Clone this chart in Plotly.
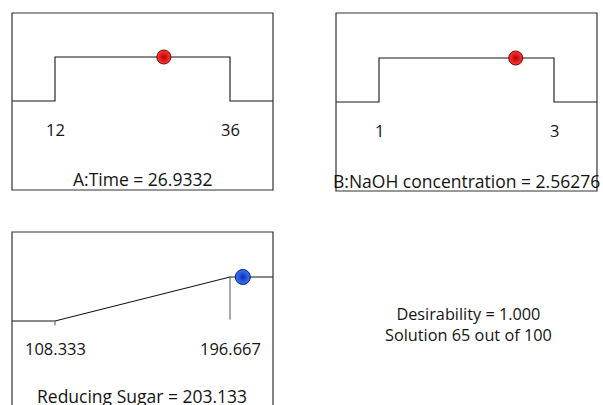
import plotly.graph_objects as go

# Optimisation ramps: factor ranges, chosen settings, predicted response
factor_names = ["A:Time", "B:NaOH concentration"]
factor_low = [12, 1]
factor_high = [36, 3]
factor_opt = [26.9332, 2.56276]
factor_fmt = ["{:g}", "{:g}"]

response_name = "Reducing Sugar"
response_low = 108.333
response_high = 196.667
response_pred = 203.133

desirability = 1.000
solution_no = 65
solution_total = 100

W, H = 603, 405
FONT = "Open Sans"
INK = "#141414"
FS_TITLE = 17.5
FS_TICK = 16.5
FS_NOTE = 16.3


def fx(p):
    return p / W


def fy(p):
    return 1 - p / H


# pixel frames of the three ramp panels: left, right, top, bottom
frames = [(12, 273, 13, 190), (336, 597, 13, 191), (12, 273, 232, 405)]
low_px = [101, 102, 321]
inset = 43
unit_px = 44

fig = go.Figure()
annotations = []
shapes = []


def label(x, y, text, size, xref="paper", yref="paper"):
    annotations.append(dict(x=x, y=y, xref=xref, yref=yref, text=text,
                            showarrow=False, xanchor="center", yanchor="middle",
                            align="center",
                            font=dict(family=FONT, size=size, color=INK)))


def axis_setup(i, lo, hi):
    L, R, T, B = frames[i]
    s = (hi - lo) / (R - L - 2 * inset)
    xr = [lo - inset * s, hi + inset * s]
    yl = low_px[i]
    yr = [-(B - yl) / unit_px, (yl - T) / unit_px]
    ax = dict(domain=[fx(L), fx(R)], range=xr, visible=False, fixedrange=True)
    ay = dict(domain=[max(0, fy(B)), fy(T)], range=yr, visible=False, fixedrange=True)
    return ax, ay, xr, yr


layout_axes = {}
for i in range(2):
    ax, ay, xr, yr = axis_setup(i, factor_low[i], factor_high[i])
    n = i + 1
    sx = "" if n == 1 else str(n)
    layout_axes["xaxis" + sx] = dict(ax, anchor="y" + sx)
    layout_axes["yaxis" + sx] = dict(ay, anchor="x" + sx)
    xa, ya = "x" + sx, "y" + sx
    lo, hi = factor_low[i], factor_high[i]
    fig.add_trace(go.Scatter(
        x=[xr[0], lo, lo, hi, hi, xr[1]], y=[0, 0, 1, 1, 0, 0],
        mode="lines", line=dict(color=INK, width=1.1), xaxis=xa, yaxis=ya,
        hoverinfo="skip", showlegend=False))
    fig.add_trace(go.Scatter(
        x=[factor_opt[i]], y=[1], mode="markers", xaxis=xa, yaxis=ya,
        marker=dict(size=14, color="#ff3a3a",
                    gradient=dict(type="radial", color="#b80000"),
                    line=dict(color="#7a0000", width=1)),
        showlegend=False))
    for v in (lo, hi):
        label(v, -28 / unit_px, factor_fmt[i].format(v), FS_TICK, xref=xa, yref=ya)
    shapes.append(dict(type="rect", xref=xa + " domain", yref=ya + " domain",
                       x0=0, x1=1, y0=0, y1=1, line=dict(color="#333333", width=1.2)))

# titles of the factor panels
label(fx(142), fy(179), f"{factor_names[0]} = {factor_opt[0]:g}", FS_TITLE)
label(fx(466), fy(181), f"{factor_names[1]} = {factor_opt[1]:g}", FS_TITLE)

# response ramp (maximise)
ax, ay, xr, yr = axis_setup(2, response_low, response_high)
layout_axes["xaxis3"] = dict(ax, anchor="y3")
layout_axes["yaxis3"] = dict(ay, anchor="x3")
fig.add_trace(go.Scatter(
    x=[xr[0], response_low, response_high, xr[1]], y=[0, 0, 1, 1],
    mode="lines", line=dict(color=INK, width=1.1), xaxis="x3", yaxis="y3",
    hoverinfo="skip", showlegend=False))
fig.add_trace(go.Scatter(
    x=[response_low, response_low], y=[0, -0.1], mode="lines",
    line=dict(color="#555555", width=1), xaxis="x3", yaxis="y3",
    hoverinfo="skip", showlegend=False))
fig.add_trace(go.Scatter(
    x=[response_high, response_high], y=[1, 0.03], mode="lines",
    line=dict(color="#555555", width=1), xaxis="x3", yaxis="y3",
    hoverinfo="skip", showlegend=False))
fig.add_trace(go.Scatter(
    x=[response_pred], y=[1], mode="markers", xaxis="x3", yaxis="y3",
    marker=dict(size=15, color="#3d78ff",
                gradient=dict(type="radial", color="#0b2fb5"),
                line=dict(color="#061a6e", width=1)),
    showlegend=False))
for v in (response_low, response_high):
    label(v, -27 / unit_px, f"{v:.3f}", FS_TICK, xref="x3", yref="y3")
label(fx(142), fy(395.5), f"{response_name} = {response_pred:.3f}", FS_TITLE)
shapes.append(dict(type="rect", xref="x3 domain", yref="y3 domain",
                   x0=0, x1=1, y0=-0.3, y1=1, line=dict(color="#333333", width=1.2)))

# desirability summary
label(fx(468), fy(324),
      f"Desirability = {desirability:.3f}<br>Solution {solution_no} out of {solution_total}",
      FS_NOTE)

fig.update_layout(
    width=W, height=H, margin=dict(l=0, r=0, t=0, b=0),
    paper_bgcolor="white", plot_bgcolor="white",
    annotations=annotations, shapes=shapes, **layout_axes)

fig.write_html("out.html", config=dict(displayModeBar=False))
